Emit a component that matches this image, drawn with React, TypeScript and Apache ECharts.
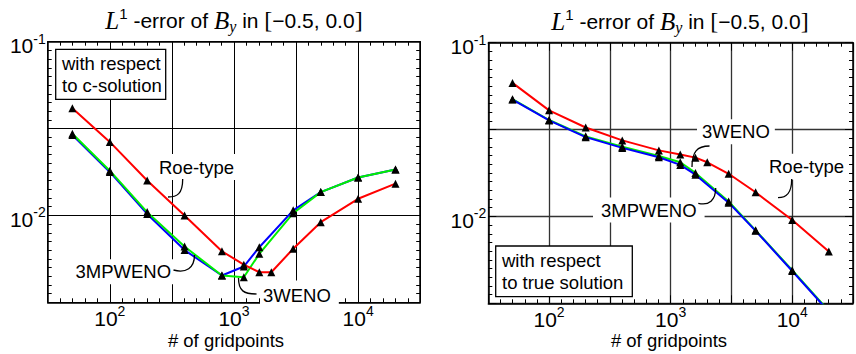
import React, { useEffect, useRef } from "react";
import * as echarts from "echarts";

// grid sizes (number of grid points)
const roeX = [50, 100, 200, 400, 800, 1200, 1600, 2000, 3000, 5000, 10000, 20000];
const wenoX = [50, 100, 200, 400, 800, 1200, 1600, 3000, 5000, 10000, 20000];

// L1 error with respect to c-solution (left panel)
const roeCsol = [0.0414, 0.0265, 0.0159, 0.0100, 0.00622, 0.00521, 0.00471, 0.00471, 0.00643, 0.00914, 0.01247, 0.01524];
const mpwenoCsol = [0.0290, 0.0178, 0.0102, 0.00632, 0.00451, 0.00508, 0.00656, 0.0107, 0.01362, 0.01653, 0.01836];
const wenoCsol = [0.0295, 0.0181, 0.01045, 0.00662, 0.00451, 0.00441, 0.00601, 0.0103, 0.01362, 0.01653, 0.01836];

// L1 error with respect to true solution (right panel)
const roeTrue = [0.0587, 0.0408, 0.0325, 0.0274, 0.0240, 0.0227, 0.0218, 0.0205, 0.0176, 0.01377, 0.00953, 0.00628];
const mpwenoTrue = [0.0471, 0.0357, 0.0286, 0.0248, 0.0219, 0.0198, 0.0174, 0.0120, 0.00826, 0.00485, 0.00283];
const wenoTrue = [0.0473, 0.0359, 0.0289, 0.0252, 0.0223, 0.0205, 0.0178, 0.0122, 0.00832, 0.00490, 0.00286];

// axis extents as decimal exponents
const xExpRange = [1.5, 4.5];
const yExpRange = [-2.5, -1];
const expStep = 0.5;

const FONT = "'Liberation Sans', Arial, sans-serif";
const SERIF = "'Liberation Serif', 'DejaVu Serif', serif";

const pair = (xs: number[], ys: number[]) => xs.map((x, i) => [x, ys[i]]);

const isInt = (v: number) => Math.abs(v - Math.round(v)) < 1e-9;
const powLabel = (v: number) => (isInt(v) ? `{b|10}{s|${Math.round(v)}}` : "");

const labelRich = {
  b: { fontSize: 21, lineHeight: 28, fontFamily: FONT, color: "#000" },
  s: { fontSize: 14, lineHeight: 14, fontFamily: FONT, color: "#000", verticalAlign: "top" },
};

function axesFor(grid: number, gridColor: string, gridWidth: number) {
  const frame = { show: true, onZero: false, lineStyle: { color: "#000", width: 1.5 } };
  const tick = { show: true, inside: true, length: 8, lineStyle: { color: "#000", width: 1 } };
  const minor = (n: number) => ({ show: true, splitNumber: n, length: 4, lineStyle: { color: "#000", width: 1 } });
  const xs = [
    { gridIndex: grid, type: "log", logBase: 10, min: Math.pow(10, xExpRange[0]), max: Math.pow(10, xExpRange[1]), show: false },
    {
      gridIndex: grid, type: "value", position: "bottom", min: xExpRange[0], max: xExpRange[1], interval: expStep,
      axisLine: frame, axisTick: tick, minorTick: minor(5),
      splitLine: { show: true, lineStyle: { color: gridColor, width: gridWidth } },
      axisLabel: { formatter: powLabel, rich: labelRich, margin: 2 },
    },
    {
      gridIndex: grid, type: "value", position: "top", min: xExpRange[0], max: xExpRange[1], interval: expStep,
      axisLine: frame, axisTick: tick, minorTick: minor(5), splitLine: { show: false }, axisLabel: { show: false },
    },
  ];
  const ys = [
    { gridIndex: grid, type: "log", logBase: 10, min: Math.pow(10, yExpRange[0]), max: Math.pow(10, yExpRange[1]), show: false },
    {
      gridIndex: grid, type: "value", position: "left", min: yExpRange[0], max: yExpRange[1], interval: expStep,
      axisLine: frame, axisTick: tick, minorTick: minor(10),
      splitLine: { show: true, lineStyle: { color: gridColor, width: gridWidth } },
      axisLabel: { formatter: powLabel, rich: labelRich, margin: 2, padding: [8, 0, 0, 0] },
    },
    {
      gridIndex: grid, type: "value", position: "right", min: yExpRange[0], max: yExpRange[1], interval: expStep,
      axisLine: frame, axisTick: tick, minorTick: minor(10), splitLine: { show: false }, axisLabel: { show: false },
    },
  ];
  return { xs, ys };
}

function lineSeries(name: string, data: number[][], color: string, xi: number, yi: number) {
  return {
    name, type: "line", xAxisIndex: xi, yAxisIndex: yi, data, clip: true,
    symbol: "triangle", symbolSize: 8, showSymbol: true,
    itemStyle: { color: "#000" },
    lineStyle: { color, width: 2 },
  };
}

const txt = (text: string, x: number, y: number, extra: any = {}) => ({
  type: "text", x, y, z: 10,
  style: { text, font: `18.5px ${FONT}`, fill: "#000", align: "left", verticalAlign: "middle", ...extra },
});

const leader = (x1: number, y1: number, c1x: number, c1y: number, c2x: number, c2y: number, x2: number, y2: number) => ({
  type: "bezierCurve", z: 11,
  shape: { x1, y1, cpx1: c1x, cpy1: c1y, cpx2: c2x, cpy2: c2y, x2, y2 },
  style: { stroke: "#000", lineWidth: 1.3, fill: null },
});

const titleRich = {
  it: { fontFamily: SERIF, fontStyle: "italic", fontSize: 25, lineHeight: 28, color: "#000" },
  sup: { fontFamily: FONT, fontSize: 15, lineHeight: 15, verticalAlign: "top", color: "#000" },
  sub: { fontFamily: SERIF, fontStyle: "italic", fontSize: 16, lineHeight: 16, verticalAlign: "bottom", color: "#000" },
  n: { fontFamily: FONT, fontSize: 21, lineHeight: 28, color: "#000" },
  br: { fontFamily: SERIF, fontSize: 24, lineHeight: 28, color: "#000" },
};
const titleText = "{it|L}{sup|1}{n| -error of }{it|B}{sub|y}{n| in }{br|[}{n|\u22120.5, 0.0}{br|]}";

export default function App() {
  const ref = useRef<HTMLDivElement>(null);
  useEffect(() => {
    if (!ref.current) return;
    const chart = echarts.init(ref.current, null, { renderer: "svg" });
    const a0 = axesFor(0, "#000", 1);
    const a1 = axesFor(1, "#333", 1.3);
    const option: any = {
      animation: false,
      backgroundColor: "#fff",
      grid: [
        { left: 47.7, top: 41.7, width: 372.5, height: 260.6 },
        { left: 488.3, top: 42.7, width: 373.5, height: 260.6 },
      ],
      xAxis: [...a0.xs, ...a1.xs],
      yAxis: [...a0.ys, ...a1.ys],
      series: [
        lineSeries("3MPWENO", pair(wenoX, mpwenoCsol), "#0000ff", 0, 0),
        lineSeries("3WENO", pair(wenoX, wenoCsol), "#00f000", 0, 0),
        lineSeries("Roe-type", pair(roeX, roeCsol), "#ff0000", 0, 0),
        lineSeries("3WENO", pair(wenoX, wenoTrue), "#00f000", 3, 3),
        lineSeries("3MPWENO", pair(wenoX, mpwenoTrue), "#0000ff", 3, 3),
        lineSeries("Roe-type", pair(roeX, roeTrue), "#ff0000", 3, 3),
      ],
      graphic: [
        // titles
        { type: "text", x: 234, y: 20, z: 10, style: { text: titleText, rich: titleRich, align: "center", verticalAlign: "middle" } },
        { type: "text", x: 680, y: 21, z: 10, style: { text: titleText, rich: titleRich, align: "center", verticalAlign: "middle" } },
        // axis titles
        txt("# of gridpoints", 226, 340, { align: "center" }),
        txt("# of gridpoints", 669, 340, { align: "center" }),
        // left boxes and labels
        { type: "rect", z: 10, shape: { x: 55.7, y: 49.3, width: 110, height: 50 }, style: { fill: "#fff", stroke: "#000", lineWidth: 1.3 } },
        txt("with respect\nto c-solution", 62, 74.5, { lineHeight: 22.7 }),
        txt("Roe-type", 157, 167, { backgroundColor: "#fff", padding: [5, 2, 2, 2] }),
        leader(182.7, 179, 182.7, 194, 177, 197, 168, 197),
        txt("3MPWENO", 72.5, 271.7, { backgroundColor: "#fff", padding: [3, 3, 3, 3] }),
        leader(173.5, 270, 186, 273.5, 194.5, 268, 194.5, 255),
        txt("3WENO", 260, 295, { backgroundColor: "#fff", padding: [6, 8, 4, 3] }),
        leader(238.5, 278, 238.5, 291, 244, 294, 256.5, 294),
        // right boxes and labels
        { type: "rect", z: 10, shape: { x: 495.7, y: 246, width: 136.6, height: 50.7 }, style: { fill: "#fff", stroke: "#000", lineWidth: 1.3 } },
        txt("with respect\nto true solution", 502, 271.7, { lineHeight: 22 }),
        txt("3WENO", 697, 131.7, { backgroundColor: "#fff", padding: [3, 5, 3, 5] }),
        leader(709.5, 146, 697, 146, 692, 152, 692, 167),
        txt("Roe-type", 767, 166.7, { backgroundColor: "#fff", padding: [5, 2, 2, 2] }),
        leader(791.7, 179, 791.7, 194, 786, 197.7, 778, 197.7),
        txt("3MPWENO", 593, 210, { backgroundColor: "#fff", padding: [3, 8, 3, 8] }),
        leader(698.3, 203.3, 709, 206, 715.7, 200, 715.7, 188),
      ],
    };
    chart.setOption(option);
    return () => chart.dispose();
  }, []);
  return (
    <div
      ref={ref}
      style={{ position: "fixed", left: 0, top: 0, width: 856, height: 354, background: "#fff" }}
    />
  );
}
